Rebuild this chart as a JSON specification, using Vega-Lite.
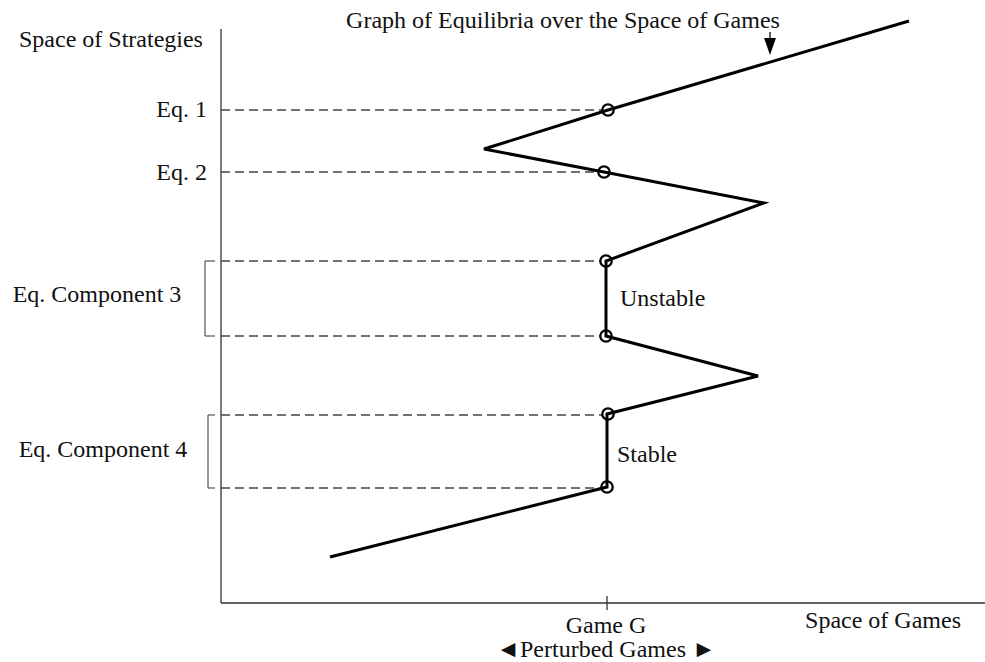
{
  "$schema": "https://vega.github.io/schema/vega-lite/v6.json",
  "width": 985,
  "height": 662,
  "padding": 0,
  "autosize": {"type": "none"},
  "background": "white",
  "config": {"view": {"stroke": null}},
  "datasets": {
    "axes": [
      {"x": 221, "y": 29, "x2": 221, "y2": 603},
      {"x": 221, "y": 603, "x2": 985, "y2": 603},
      {"x": 607, "y": 596, "x2": 607, "y2": 610}
    ],
    "brackets": [
      {"x": 215, "y": 261, "x2": 205, "y2": 261},
      {"x": 205, "y": 261, "x2": 205, "y2": 336},
      {"x": 205, "y": 336, "x2": 215, "y2": 336},
      {"x": 215, "y": 415, "x2": 208, "y2": 415},
      {"x": 208, "y": 415, "x2": 208, "y2": 488},
      {"x": 208, "y": 488, "x2": 215, "y2": 488}
    ],
    "dashes": [
      {"x": 221, "y": 110, "x2": 602, "y2": 110},
      {"x": 221, "y": 172, "x2": 598, "y2": 172},
      {"x": 221, "y": 261, "x2": 600, "y2": 261},
      {"x": 221, "y": 336, "x2": 600, "y2": 336},
      {"x": 221, "y": 415, "x2": 602, "y2": 415},
      {"x": 221, "y": 488, "x2": 601, "y2": 488}
    ],
    "graph": [
      {"order": 1, "x": 330, "y": 557},
      {"order": 2, "x": 607, "y": 487},
      {"order": 3, "x": 607, "y": 414},
      {"order": 4, "x": 758, "y": 376},
      {"order": 5, "x": 606, "y": 336},
      {"order": 6, "x": 606, "y": 261},
      {"order": 7, "x": 764, "y": 203},
      {"order": 8, "x": 604, "y": 172},
      {"order": 9, "x": 484, "y": 149},
      {"order": 10, "x": 608, "y": 110},
      {"order": 11, "x": 909, "y": 21}
    ],
    "equilibria": [
      {"x": 608, "y": 110},
      {"x": 604, "y": 172},
      {"x": 606, "y": 261},
      {"x": 606, "y": 336},
      {"x": 608, "y": 414},
      {"x": 607, "y": 487}
    ],
    "arrowShaft": [{"x": 770, "y": 32, "x2": 770, "y2": 40}],
    "arrowHead": [{"x": 770, "y": 46.5}],
    "labelsLeft": [
      {"x": 19, "y": 47, "label": "Space of Strategies"},
      {"x": 620, "y": 306, "label": "Unstable"},
      {"x": 617, "y": 462, "label": "Stable"}
    ],
    "labelsRight": [
      {"x": 207, "y": 117, "label": "Eq. 1"},
      {"x": 207, "y": 180, "label": "Eq. 2"}
    ],
    "labelsCenter": [
      {"x": 563, "y": 28, "label": "Graph of Equilibria over the Space of Games"},
      {"x": 97, "y": 302, "label": "Eq. Component 3"},
      {"x": 103, "y": 457, "label": "Eq. Component 4"},
      {"x": 606, "y": 633, "label": "Game G"},
      {"x": 606, "y": 657, "label": "◄Perturbed Games ►"},
      {"x": 883, "y": 628, "label": "Space of Games"}
    ]
  },
  "encoding": {
    "x": {"field": "x", "type": "quantitative", "scale": {"domain": [0, 985], "nice": false, "zero": false}, "axis": null},
    "y": {"field": "y", "type": "quantitative", "scale": {"domain": [0, 662], "nice": false, "zero": false, "reverse": true}, "axis": null}
  },
  "layer": [
    {
      "data": {"name": "axes"},
      "mark": {"type": "rule", "color": "#333333", "strokeWidth": 1.3},
      "encoding": {"x2": {"field": "x2"}, "y2": {"field": "y2"}}
    },
    {
      "data": {"name": "brackets"},
      "mark": {"type": "rule", "color": "#444444", "strokeWidth": 1.1},
      "encoding": {"x2": {"field": "x2"}, "y2": {"field": "y2"}}
    },
    {
      "data": {"name": "dashes"},
      "mark": {"type": "rule", "color": "#444444", "strokeWidth": 1.3, "strokeDash": [9, 5]},
      "encoding": {"x2": {"field": "x2"}, "y2": {"field": "y2"}}
    },
    {
      "data": {"name": "graph"},
      "mark": {"type": "line", "color": "#000000", "strokeWidth": 3, "strokeJoin": "miter"},
      "encoding": {"order": {"field": "order", "type": "quantitative"}}
    },
    {
      "data": {"name": "equilibria"},
      "mark": {"type": "point", "shape": "circle", "size": 130, "filled": false, "stroke": "#000000", "strokeWidth": 2.3, "opacity": 1}
    },
    {
      "data": {"name": "arrowShaft"},
      "mark": {"type": "rule", "color": "#000000", "strokeWidth": 1.3},
      "encoding": {"x2": {"field": "x2"}, "y2": {"field": "y2"}}
    },
    {
      "data": {"name": "arrowHead"},
      "mark": {"type": "point", "shape": "M-0.7,-1L0.7,-1L0,1Z", "size": 289, "filled": true, "color": "#000000", "opacity": 1}
    },
    {
      "data": {"name": "labelsLeft"},
      "mark": {"type": "text", "align": "left", "baseline": "alphabetic", "font": "Liberation Serif", "fontSize": 24, "color": "#111111"},
      "encoding": {"text": {"field": "label"}}
    },
    {
      "data": {"name": "labelsRight"},
      "mark": {"type": "text", "align": "right", "baseline": "alphabetic", "font": "Liberation Serif", "fontSize": 24, "color": "#111111"},
      "encoding": {"text": {"field": "label"}}
    },
    {
      "data": {"name": "labelsCenter"},
      "mark": {"type": "text", "align": "center", "baseline": "alphabetic", "font": "Liberation Serif", "fontSize": 24, "color": "#111111"},
      "encoding": {"text": {"field": "label"}}
    }
  ]
}
